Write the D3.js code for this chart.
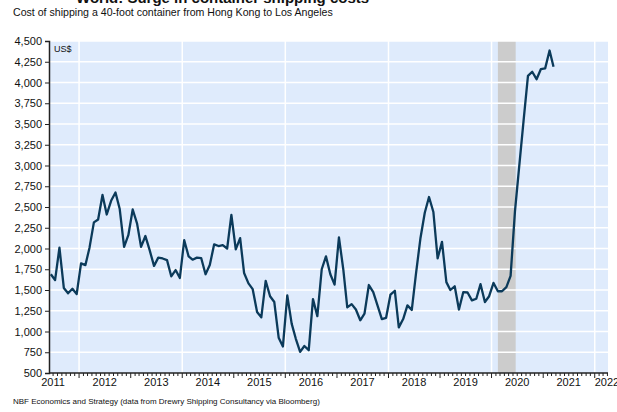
<!DOCTYPE html>
<html>
<head>
<meta charset="utf-8">
<script src="https://cdn.jsdelivr.net/npm/d3@7"></script>
<style>
  body { margin: 0; background: #fff; }
  svg { display: block; font-family: Arial, "Liberation Sans", sans-serif; }
</style>
</head>
<body>
<div id="chart"></div>
<script>
// Monthly cost (US$) of a 40-foot container, Hong Kong -> Los Angeles, from June 2011
const startYear = 2011;
const startMonth = 5; // June (0-based)
const costs = [
  1690, 1620, 2010, 1525, 1460, 1515, 1450,
  1820, 1800, 2010, 2315, 2350, 2645, 2410, 2575, 2675, 2475, 2020, 2160,
  2470, 2300, 2020, 2150, 1980, 1790, 1890, 1880, 1860, 1665, 1740, 1645,
  2100, 1905, 1865, 1890, 1885, 1690, 1800, 2050, 2030, 2040, 2000, 2405,
  1990, 2125, 1705, 1580, 1510, 1235, 1170, 1610, 1425, 1355, 925, 820,
  1435, 1095, 915, 755, 825, 775, 1390, 1185, 1750, 1905, 1690, 1565,
  2135, 1745, 1290, 1330, 1265, 1135, 1215, 1560, 1475, 1315, 1150, 1165,
  1445, 1490, 1050, 1150, 1315, 1260, 1700, 2120, 2430, 2620, 2440, 1880,
  2080, 1595, 1500, 1545, 1265, 1475, 1470, 1375, 1395, 1570, 1355, 1425,
  1585, 1485, 1485, 1535, 1670, 2450, 2990, 3540, 4080, 4130, 4040, 4160,
  4170, 4385, 4190
];
const yTicks = [500, 750, 1000, 1250, 1500, 1750, 2000, 2250, 2500, 2750, 3000, 3250, 3500, 3750, 4000, 4250, 4500];
const yearLabels = [2011, 2012, 2013, 2014, 2015, 2016, 2017, 2018, 2019, 2020, 2021, 2022];
const gridYears = [2012, 2014, 2016, 2018, 2020, 2022];
const recession = [new Date(2020, 1, 15), new Date(2020, 5, 20)];

const titleText = 'World: Surge in container shipping costs';
const subtitleText = 'Cost of shipping a 40-foot container from Hong Kong to Los Angeles';
const sourceText = 'NBF Economics and Strategy (data from Drewry Shipping Consultancy via Bloomberg)';

const width = 617;
const height = 412;
const plot = { left: 49, right: 608, top: 41, bottom: 373 };

const data = costs.map((v, i) => ({ date: new Date(startYear, startMonth + i, 15), value: v }));

const svg = d3.select('#chart')
  .append('svg')
  .attr('width', width)
  .attr('height', height);

const x = d3.scaleTime()
  .domain([new Date(2011, 5, 2), new Date(2022, 3, 5)])
  .range([plot.left, plot.right]);

const y = d3.scaleLinear()
  .domain([500, 4500])
  .range([plot.bottom, plot.top]);

// Titles (main title is cut off at the top, as in the source picture)
svg.append('text')
  .attr('x', 76)
  .attr('y', 3)
  .attr('font-size', '15px')
  .attr('font-weight', 'bold')
  .attr('fill', '#111')
  .text(titleText);

svg.append('text')
  .attr('x', 13)
  .attr('y', 16)
  .attr('font-size', '10.6px')
  .attr('fill', '#111')
  .text(subtitleText);

// Plot background
svg.append('rect')
  .attr('x', plot.left)
  .attr('y', plot.top)
  .attr('width', plot.right - plot.left)
  .attr('height', plot.bottom - plot.top)
  .attr('fill', '#dfebfc');

// Recession shading
svg.append('rect')
  .attr('x', x(recession[0]))
  .attr('y', plot.top)
  .attr('width', x(recession[1]) - x(recession[0]))
  .attr('height', plot.bottom - plot.top)
  .attr('fill', '#cccccc');

// Grid
svg.append('g')
  .selectAll('line')
  .data(yTicks.slice(1))
  .enter()
  .append('line')
  .attr('x1', plot.left)
  .attr('x2', plot.right)
  .attr('y1', d => y(d))
  .attr('y2', d => y(d))
  .attr('stroke', '#fff')
  .attr('stroke-width', 1.5);

svg.append('g')
  .selectAll('line')
  .data(gridYears)
  .enter()
  .append('line')
  .attr('x1', d => x(new Date(d, 0, 1)))
  .attr('x2', d => x(new Date(d, 0, 1)))
  .attr('y1', plot.top)
  .attr('y2', plot.bottom)
  .attr('stroke', '#fff')
  .attr('stroke-width', 1.5);

// Line
const line = d3.line()
  .x(d => x(d.date))
  .y(d => y(d.value));

svg.append('path')
  .datum(data)
  .attr('d', line)
  .attr('fill', 'none')
  .attr('stroke', '#0b3a5a')
  .attr('stroke-width', 2.3)
  .attr('stroke-linejoin', 'round');

// Y axis
const yAxis = d3.axisLeft(y)
  .tickValues(yTicks)
  .tickSize(4)
  .tickPadding(3)
  .tickFormat(d3.format(','));

const yG = svg.append('g')
  .attr('transform', `translate(${plot.left},0)`)
  .call(yAxis);
yG.select('.domain').attr('stroke', '#222').attr('stroke-width', 1.5);
yG.selectAll('.tick line').attr('stroke', '#222');
yG.selectAll('text')
  .attr('font-size', '11px')
  .attr('fill', '#111')
  .attr('font-family', 'Arial, "Liberation Sans", sans-serif');

svg.append('text')
  .attr('x', plot.left + 5)
  .attr('y', plot.top + 11)
  .attr('font-size', '9px')
  .attr('fill', '#111')
  .text('US$');

// X axis: monthly minor ticks, longer ticks at year starts
const months = d3.timeMonth.range(x.domain()[0], x.domain()[1]);
const xG = svg.append('g');

xG.selectAll('line.minor')
  .data(months)
  .enter()
  .append('line')
  .attr('class', 'minor')
  .attr('x1', d => x(d))
  .attr('x2', d => x(d))
  .attr('y1', plot.bottom)
  .attr('y2', d => plot.bottom + (d.getMonth() === 0 ? 5 : 3))
  .attr('stroke', '#222')
  .attr('stroke-width', 1);

xG.append('line')
  .attr('x1', plot.left)
  .attr('x2', plot.right)
  .attr('y1', plot.bottom)
  .attr('y2', plot.bottom)
  .attr('stroke', '#222')
  .attr('stroke-width', 1.5);

xG.selectAll('text')
  .data(yearLabels)
  .enter()
  .append('text')
  .attr('x', d => d === 2022 ? x(new Date(d, 0, 1)) : x(new Date(d, 6, 1)))
  .attr('y', 386)
  .attr('text-anchor', d => d === 2022 ? 'start' : 'middle')
  .attr('font-size', '11px')
  .attr('fill', '#111')
  .text(d => d);

// Source
svg.append('text')
  .attr('x', 13)
  .attr('y', 404)
  .attr('font-size', '8px')
  .attr('fill', '#111')
  .text(sourceText);
</script>
</body>
</html>
